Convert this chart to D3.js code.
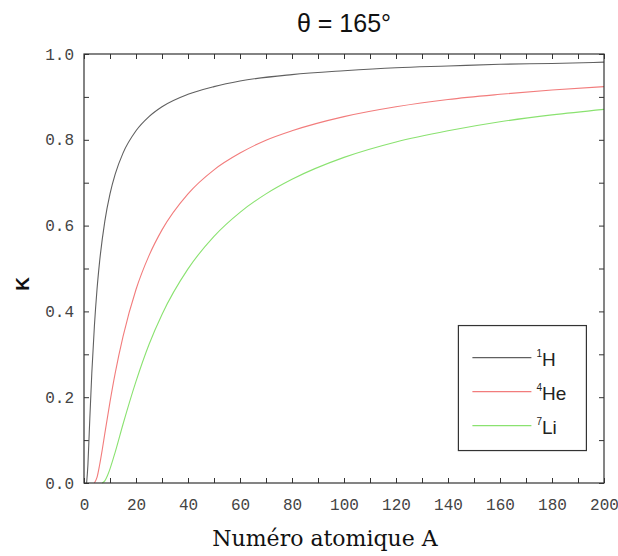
<!DOCTYPE html>
<html>
<head>
<meta charset="utf-8">
<script src="https://cdn.jsdelivr.net/npm/d3@7"></script>
<style>
  body { margin: 0; background: #fff; }
  svg { display: block; }
</style>
</head>
<body>
<div id="chart"></div>
<script>
// values (K vs target mass A, theta = 165 deg)
const massH = [1, 1.5, 2, 3, 4, 5, 6, 8, 10, 12, 15, 20, 25, 30, 40, 50, 60, 80, 100, 120, 140, 160, 180, 200];
const kH = [0, 0.042, 0.115, 0.256, 0.366, 0.451, 0.516, 0.610, 0.674, 0.720, 0.769, 0.821, 0.854, 0.877, 0.906, 0.924, 0.937, 0.952, 0.961, 0.968, 0.972, 0.976, 0.978, 0.981];

const massHe = [4, 5, 6, 7, 8, 10, 12, 15, 20, 25, 30, 40, 50, 60, 70, 80, 100, 120, 140, 160, 180, 200];
const kHe = [0, 0.013, 0.042, 0.077, 0.115, 0.189, 0.256, 0.341, 0.451, 0.530, 0.590, 0.674, 0.730, 0.769, 0.799, 0.821, 0.854, 0.877, 0.894, 0.906, 0.916, 0.924];

const massLi = [7, 8, 9, 10, 12, 15, 20, 25, 30, 40, 50, 60, 70, 80, 100, 120, 140, 160, 180, 200];
const kLi = [0, 0.005, 0.017, 0.033, 0.072, 0.137, 0.237, 0.323, 0.393, 0.499, 0.575, 0.631, 0.674, 0.708, 0.759, 0.795, 0.821, 0.842, 0.858, 0.871];

const xTicks = [0, 20, 40, 60, 80, 100, 120, 140, 160, 180, 200];
const yTicks = [0, 0.2, 0.4, 0.6, 0.8, 1.0];

const seriesNames = ["H", "He", "Li"];
const seriesMass = ["1", "4", "7"];
const seriesColors = ["#606060", "#f27c7c", "#8ae270"];

drawChart();

function drawChart() {
  const width = 618, height = 556;
  const margin = { top: 54, right: 14, bottom: 73, left: 84 };
  const w = width - margin.left - margin.right,
    h = height - margin.top - margin.bottom;

  const svg = d3
    .select("#chart")
    .append("svg")
    .attr("width", width)
    .attr("height", height);

  const g = svg.append("g").attr("transform", `translate(${margin.left},${margin.top})`);

  const x = d3.scaleLinear().domain([0, 200]).range([0, w]);
  const y = d3.scaleLinear().domain([0, 1]).range([h, 0]);

  const tickColor = "#333";

  // inward ticks on all four sides
  const minorX = d3.range(0, 201, 10);
  const minorY = d3.range(0, 1.001, 0.1);

  g.append("g")
    .attr("transform", `translate(0,${h})`)
    .call(d3.axisBottom(x).tickValues(minorX).tickSize(-5).tickFormat(""))
    .call((a) => a.select(".domain").remove());
  g.append("g")
    .call(d3.axisTop(x).tickValues(minorX).tickSize(-5).tickFormat(""))
    .call((a) => a.select(".domain").remove());
  g.append("g")
    .call(d3.axisLeft(y).tickValues(minorY).tickSize(-5).tickFormat(""))
    .call((a) => a.select(".domain").remove());
  g.append("g")
    .attr("transform", `translate(${w},0)`)
    .call(d3.axisRight(y).tickValues(minorY).tickSize(-5).tickFormat(""))
    .call((a) => a.select(".domain").remove());

  g.selectAll(".tick line").attr("stroke", tickColor);

  // tick labels
  const xAxis = g.append("g")
    .attr("transform", `translate(0,${h})`)
    .call(d3.axisBottom(x).tickValues(xTicks).tickSize(0).tickPadding(16).tickFormat(d3.format("d")));
  xAxis.select(".domain").remove();
  xAxis.selectAll("text")
    .style("font-family", "'Liberation Mono', monospace")
    .style("font-size", "16px")
    .attr("fill", "#444");

  const yAxis = g.append("g")
    .call(d3.axisLeft(y).tickValues(yTicks).tickSize(0).tickPadding(10).tickFormat(d3.format(".1f")));
  yAxis.select(".domain").remove();
  yAxis.selectAll("text")
    .style("font-family", "'Liberation Mono', monospace")
    .style("font-size", "16px")
    .attr("fill", "#444");

  // curves
  const line = d3.line()
    .x((d) => x(d[0]))
    .y((d) => y(d[1]))
    .curve(d3.curveMonotoneX);

  const curves = [
    d3.zip(massH, kH),
    d3.zip(massHe, kHe),
    d3.zip(massLi, kLi)
  ];

  g.selectAll("path.curve")
    .data(curves)
    .join("path")
    .attr("class", "curve")
    .attr("fill", "none")
    .attr("stroke", (d, i) => seriesColors[i])
    .attr("stroke-width", 1.1)
    .attr("d", line);

  // frame
  g.append("rect")
    .attr("width", w)
    .attr("height", h)
    .attr("fill", "none")
    .attr("stroke", "#333")
    .attr("stroke-width", 1.2);

  // legend
  const lx = x(144), ly = y(0.367);
  const legend = g.append("g").attr("transform", `translate(${lx},${ly})`);
  legend.append("rect")
    .attr("width", 128)
    .attr("height", 125)
    .attr("fill", "#fff")
    .attr("stroke", "#333")
    .attr("stroke-width", 1.2);

  const rows = legend.selectAll("g.row")
    .data(seriesNames)
    .join("g")
    .attr("class", "row")
    .attr("transform", (d, i) => `translate(0,${32 + i * 34})`);

  rows.append("line")
    .attr("x1", 14)
    .attr("x2", 73)
    .attr("stroke", (d, i) => seriesColors[i])
    .attr("stroke-width", 1.2);

  const labels = rows.append("text")
    .attr("x", 78)
    .attr("y", 8)
    .style("font-family", "'Liberation Sans', Arial, sans-serif")
    .style("font-size", "19px")
    .attr("fill", "#222");
  labels.append("tspan")
    .attr("dy", -9)
    .style("font-size", "10px")
    .text((d, i) => seriesMass[i]);
  labels.append("tspan")
    .attr("dy", 9)
    .text((d) => d);

  // title
  svg.append("text")
    .attr("x", margin.left + w / 2)
    .attr("y", 32)
    .attr("text-anchor", "middle")
    .style("font-family", "'Liberation Sans', Arial, sans-serif")
    .style("font-size", "25px")
    .attr("fill", "#111")
    .text("\u03b8 = 165\u00b0");

  // axis titles
  svg.append("text")
    .attr("x", 325)
    .attr("y", 546)
    .attr("text-anchor", "middle")
    .style("font-family", "'DejaVu Serif', serif")
    .style("font-size", "22px")
    .attr("fill", "#111")
    .text("Numéro atomique A");

  svg.append("text")
    .attr("transform", "translate(29,284) rotate(-90)")
    .attr("text-anchor", "middle")
    .style("font-family", "'Liberation Sans', Arial, sans-serif")
    .style("font-size", "19px")
    .style("font-weight", "bold")
    .attr("fill", "#111")
    .text("K");
}
</script>
</body>
</html>
